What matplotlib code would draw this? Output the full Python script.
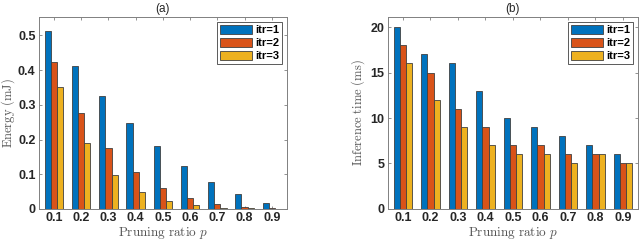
import matplotlib
matplotlib.use('Agg')
import matplotlib.pyplot as plt
import numpy as np

ratios = [0.1, 0.2, 0.3, 0.4, 0.5, 0.6, 0.7, 0.8, 0.9]
tick_labels = ['0.1', '0.2', '0.3', '0.4', '0.5', '0.6', '0.7', '0.8', '0.9']
series_names = ['itr=1', 'itr=2', 'itr=3']

energy_itr1 = [0.513, 0.413, 0.326, 0.249, 0.181, 0.125, 0.079, 0.043, 0.017]
energy_itr2 = [0.423, 0.278, 0.176, 0.106, 0.059, 0.031, 0.015, 0.006, 0.002]
energy_itr3 = [0.351, 0.189, 0.098, 0.048, 0.022, 0.010, 0.004, 0.002, 0.001]

time_itr1 = [20, 17, 16, 13, 10, 9, 8, 7, 6]
time_itr2 = [18, 15, 11, 9, 7, 7, 6, 6, 5]
time_itr3 = [16, 12, 9, 7, 6, 6, 5, 6, 5]

COLORS = ['#0072BD', '#D95319', '#EDB120']
BAR_W = 0.0226
AX_GRAY = '#808080'
TXT_DARK = '#262626'


def draw_panel(ax, series, title, ylabel, ylim, yticks, ytick_labels, ylab_x):
    x = np.array(ratios)
    for i, vals in enumerate(series):
        ax.bar(x + (i - 1) * BAR_W, vals, width=BAR_W, color=COLORS[i],
               edgecolor='#404040', linewidth=0.6, label=series_names[i], zorder=2)
    ax.set_xlim(0.045, 0.955)
    ax.set_ylim(*ylim)
    ax.set_xticks(ratios)
    ax.set_xticklabels(tick_labels, fontweight='bold', fontsize=9, color=TXT_DARK,
                       family='Liberation Sans')
    ax.set_yticks(yticks)
    ax.set_yticklabels(ytick_labels, fontweight='bold', fontsize=9, color=TXT_DARK,
                       family='Liberation Sans')
    ax.tick_params(direction='in', length=2.5, width=0.6, color=AX_GRAY,
                   top=True, right=True, pad=2.5)
    for s in ax.spines.values():
        s.set_color(AX_GRAY)
        s.set_linewidth(0.7)
    ax.set_title(title, fontsize=8.5, color=TXT_DARK, family='Liberation Sans', pad=4)
    ax.set_xlabel(r'$\mathrm{Pruning\ ratio}\ p$', fontsize=9.5,
                  color='#555555', labelpad=0.5)
    ax.set_ylabel(ylabel, fontsize=9, color='#555555')
    ax.yaxis.set_label_coords(ylab_x, 0.5)
    leg = ax.legend(loc='upper right', prop={'weight': 'bold', 'size': 8,
                    'family': 'Liberation Sans'},
                    fancybox=False, edgecolor='#404040', framealpha=1,
                    handlelength=2.9, handleheight=0.95, handletextpad=0.25,
                    borderpad=0.25, labelspacing=0.2, borderaxespad=0.45)
    leg.get_frame().set_linewidth(0.6)


plt.rcParams['mathtext.fontset'] = 'cm'
fig = plt.figure(figsize=(6.4, 2.41), dpi=100)
ax1 = fig.add_axes([0.061, 0.133, 0.387, 0.796])
ax2 = fig.add_axes([0.606, 0.133, 0.391, 0.796])

draw_panel(ax1, [energy_itr1, energy_itr2, energy_itr3], '(a)',
           r'$\mathrm{Energy\ (mJ)}$',
           (0, 0.553), [0, 0.1, 0.2, 0.3, 0.4, 0.5],
           ['0', '0.1', '0.2', '0.3', '0.4', '0.5'], -0.09)
draw_panel(ax2, [time_itr1, time_itr2, time_itr3], '(b)',
           r'$\mathrm{Inference\ time\ (ms)}$',
           (0, 21.1), [0, 5, 10, 15, 20], ['0', '5', '10', '15', '20'], -0.083)

fig.savefig('out.png', dpi=100)
